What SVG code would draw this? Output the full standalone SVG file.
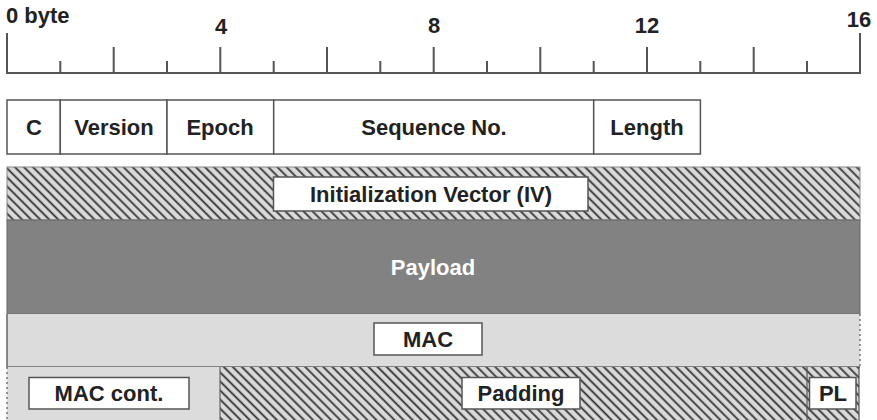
<svg xmlns="http://www.w3.org/2000/svg" width="877" height="420" viewBox="0 0 877 420">
<style>
  text { font-family: "Liberation Sans", Arial, sans-serif; font-weight: bold; font-size: 22px; fill: #222; }
  .c { text-anchor: middle; }
  .rule { stroke: #555; stroke-width: 2; fill: none; }
  .cell { fill: #fff; stroke: #555; stroke-width: 1.5; }
  .lbl { fill: #fff; stroke: #555; stroke-width: 1.5; }
  .hatch { fill: url(#hatch); }
</style>
<defs>
  <pattern id="hatch" patternUnits="userSpaceOnUse" width="6.4" height="6.4" patternTransform="rotate(-45)">
    <rect width="6.4" height="6.4" fill="#dadada"/>
    <line x1="1.2" y1="0" x2="1.2" y2="6.4" stroke="#333" stroke-width="1.8"/>
  </pattern>
</defs>

<g id="ruler">
  <path class="rule" d="M7,33 V73 H860 V33"/>
  <path class="rule" d="M60.3,61 V73 M113.7,47 V73 M167,61 V73 M220.3,47 V73 M273.7,61 V73 M327,47 V73 M380.3,61 V73 M433.7,47 V73 M487,61 V73 M540.3,47 V73 M593.7,61 V73 M647,47 V73 M700.3,61 V73 M753.7,47 V73 M807,61 V73"/>
  <text x="6" y="23">0 byte</text>
  <text class="c" x="221" y="34">4</text>
  <text class="c" x="434" y="33">8</text>
  <text class="c" x="647" y="33">12</text>
  <text class="c" x="859" y="27">16</text>
</g>

<g id="header">
  <rect class="cell" x="7" y="100" width="53.3" height="54"/>
  <rect class="cell" x="60.3" y="100" width="106.7" height="54"/>
  <rect class="cell" x="167" y="100" width="106.7" height="54"/>
  <rect class="cell" x="273.7" y="100" width="320" height="54"/>
  <rect class="cell" x="593.7" y="100" width="106.7" height="54"/>
  <text class="c" x="34" y="135">C</text>
  <text class="c" x="114" y="135">Version</text>
  <text class="c" x="220" y="135">Epoch</text>
  <text class="c" x="434" y="135">Sequence No.</text>
  <text class="c" x="647" y="135">Length</text>
</g>

<g id="iv">
  <rect class="hatch" x="7" y="167" width="853" height="53" stroke="#888" stroke-width="1"/>
  <rect class="lbl" x="273.5" y="177" width="314.5" height="34"/>
  <text class="c" x="431" y="202">Initialization Vector (IV)</text>
</g>

<g id="payload">
  <rect x="7" y="220" width="853" height="94" fill="#828282" stroke="#666" stroke-width="1"/>
  <text class="c" x="433" y="275" style="fill:#fff">Payload</text>
</g>

<g id="mac">
  <rect x="7" y="314" width="853" height="53" fill="#dcdcdc"/>
  <path d="M7,314 V367 H860" stroke="#666" stroke-width="1.5" fill="none"/>
  <path d="M860,314 V367" stroke="#777" stroke-width="1.5" stroke-dasharray="2,3" fill="none"/>
  <rect class="lbl" x="374" y="323" width="108" height="32"/>
  <text class="c" x="428" y="347">MAC</text>
</g>

<g id="mac-cont">
  <rect x="7" y="367" width="213" height="53" fill="#dcdcdc"/>
  <path d="M7,367 V420" stroke="#777" stroke-width="1.5" stroke-dasharray="2,3" fill="none"/>
  <rect class="lbl" x="29" y="377.5" width="160" height="31.5"/>
  <text class="c" x="109" y="401">MAC cont.</text>
</g>

<g id="padding">
  <rect class="hatch" x="220" y="367" width="587" height="53"/>
  <path d="M220,367 V420" stroke="#666" stroke-width="1.2"/>
  <rect class="lbl" x="462" y="377.5" width="118" height="31.5"/>
  <text class="c" x="521" y="401">Padding</text>
</g>

<g id="pl">
  <rect class="hatch" x="807" y="367" width="52" height="53"/>
  <path d="M807,367 V420 M859,367 V420" stroke="#555" stroke-width="1.2"/>
  <rect class="lbl" x="809.5" y="377.5" width="46.5" height="31.5"/>
  <text class="c" x="833" y="401">PL</text>
</g>
</svg>
